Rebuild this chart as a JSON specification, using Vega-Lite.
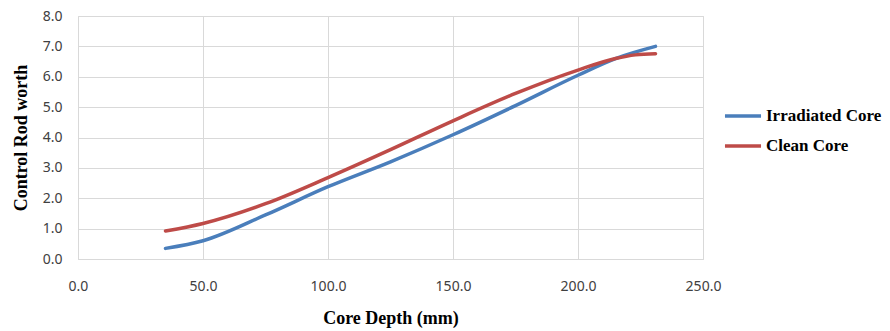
{
  "$schema": "https://vega.github.io/schema/vega-lite/v6.json",
  "width": 625,
  "height": 243,
  "autosize": "none",
  "padding": {"left": 78, "top": 16, "right": 187, "bottom": 72},
  "background": "white",
  "config": {
    "view": {"stroke": "#d9d9d9", "strokeWidth": 1},
    "axis": {"gridColor": "#d9d9d9", "domainColor": "#d9d9d9", "ticks": false, "labelFont": "Noto Sans", "labelFontSize": 14, "labelColor": "#404040", "labelFlush": false, "titleFont": "Liberation Serif", "titleFontSize": 18, "titleFontWeight": "bold", "titleColor": "#000000"}
  },
  "data": {
    "values": [
      {"depth": 35, "worth": 0.35, "series": "Irradiated Core"},
      {"depth": 50, "worth": 0.6, "series": "Irradiated Core"},
      {"depth": 75, "worth": 1.45, "series": "Irradiated Core"},
      {"depth": 100, "worth": 2.38, "series": "Irradiated Core"},
      {"depth": 125, "worth": 3.2, "series": "Irradiated Core"},
      {"depth": 150, "worth": 4.09, "series": "Irradiated Core"},
      {"depth": 175, "worth": 5.05, "series": "Irradiated Core"},
      {"depth": 200, "worth": 6.05, "series": "Irradiated Core"},
      {"depth": 215, "worth": 6.6, "series": "Irradiated Core"},
      {"depth": 231, "worth": 7.0, "series": "Irradiated Core"},
      {"depth": 35, "worth": 0.92, "series": "Clean Core"},
      {"depth": 50, "worth": 1.17, "series": "Clean Core"},
      {"depth": 75, "worth": 1.82, "series": "Clean Core"},
      {"depth": 100, "worth": 2.68, "series": "Clean Core"},
      {"depth": 125, "worth": 3.6, "series": "Clean Core"},
      {"depth": 150, "worth": 4.55, "series": "Clean Core"},
      {"depth": 175, "worth": 5.45, "series": "Clean Core"},
      {"depth": 200, "worth": 6.22, "series": "Clean Core"},
      {"depth": 215, "worth": 6.6, "series": "Clean Core"},
      {"depth": 223, "worth": 6.72, "series": "Clean Core"},
      {"depth": 231, "worth": 6.76, "series": "Clean Core"}
    ]
  },
  "mark": {"type": "line", "interpolate": "monotone", "strokeWidth": 3.5, "strokeCap": "round"},
  "encoding": {
    "x": {"field": "depth", "type": "quantitative", "scale": {"domain": [0, 250], "nice": false}, "axis": {"values": [0, 50, 100, 150, 200, 250], "format": ".1f", "labelPadding": 20, "title": "Core Depth (mm)", "titlePadding": 16, "domain": false}},
    "y": {"field": "worth", "type": "quantitative", "scale": {"domain": [0, 8], "nice": false}, "axis": {"values": [0, 1, 2, 3, 4, 5, 6, 7, 8], "format": ".1f", "labelPadding": 16, "title": "Control Rod worth", "titlePadding": 12, "domain": false}},
    "color": {"field": "series", "type": "nominal", "sort": ["Irradiated Core", "Clean Core"], "scale": {"domain": ["Irradiated Core", "Clean Core"], "range": ["#4A7EBB", "#BE4B48"]},
      "legend": {"title": null, "orient": "none", "legendX": 645, "legendY": 80, "symbolType": "stroke", "symbolSize": 1300, "symbolStrokeWidth": 3.5, "labelFont": "Liberation Serif", "labelFontSize": 17, "labelFontWeight": "bold", "labelColor": "#000000", "rowPadding": 2, "labelOffset": 3}}
  }
}
